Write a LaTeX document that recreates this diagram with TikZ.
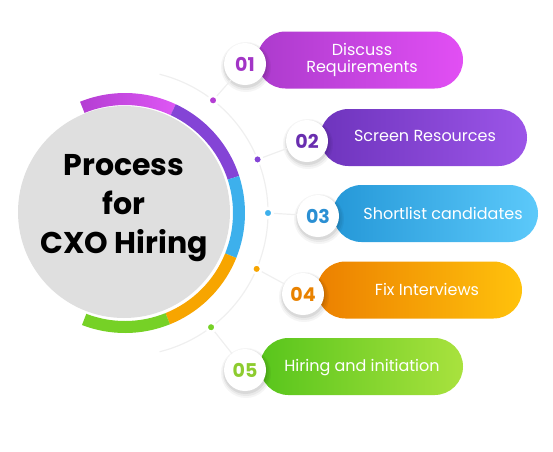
\documentclass[tikz,border=0pt]{standalone}
\usepackage{fontspec}
\setmainfont{Poppins}
\usetikzlibrary{shapes.misc,calc}
\definecolor{c1a}{HTML}{AC3BCD}\definecolor{c1b}{HTML}{E24FF4}
\definecolor{c2a}{HTML}{6E34BD}\definecolor{c2b}{HTML}{9C55E8}
\definecolor{c3a}{HTML}{2598D8}\definecolor{c3b}{HTML}{5CC9FA}
\definecolor{c4a}{HTML}{EC8000}\definecolor{c4b}{HTML}{FFC20C}
\definecolor{c5a}{HTML}{58C51C}\definecolor{c5b}{HTML}{A9E23E}
\definecolor{n1}{HTML}{A235C6}\definecolor{n2}{HTML}{692EAF}
\definecolor{n3}{HTML}{2A8FD3}\definecolor{n4}{HTML}{E98200}
\definecolor{n5}{HTML}{8DCC2F}
\definecolor{r1a}{HTML}{B43DD3}\definecolor{r1b}{HTML}{DE57F4}
\definecolor{r2}{HTML}{8444D6}\definecolor{r3}{HTML}{3DB0EC}
\definecolor{r4}{HTML}{F7A500}\definecolor{r5}{HTML}{76D126}
\definecolor{hubgray}{HTML}{DFDFDF}
\definecolor{linegray}{HTML}{EFEFEF}
\tikzset{
  dotmark/.style={circle, fill=#1, minimum size=9pt, inner sep=0pt, draw=white, line width=2.5pt},
  numball/.style={circle, fill=white, minimum size=42pt, inner sep=0pt,
    font=\fontsize{19}{19}\selectfont\bfseries, text=#1},
  pill/.style={rounded rectangle, minimum height=57pt, inner sep=0pt, draw=none},
  pilltext/.style={text=white, font=\fontsize{16}{17}\selectfont, align=center},
  conn/.style={draw=linegray, line width=1.2pt},
}
\begin{document}
\begin{tikzpicture}[x=1pt,y=-1pt]
\useasboundingbox (0,0) rectangle (553,451);
\coordinate (C) at (125,213);
% pills
\node[pill, minimum width=206pt, left color=c1a, right color=c1b] (p1) at (360,60) {};
\node[pill, minimum width=207pt, left color=c2a, right color=c2b] (p2) at (423.5,137.5) {};
\node[pill, minimum width=205pt, left color=c3a, right color=c3b] (p3) at (435.5,213.5) {};
\node[pill, minimum width=205pt, left color=c4a, right color=c4b] (p4) at (419.5,290) {};
\node[pill, minimum width=203pt, left color=c5a, right color=c5b] (p5) at (361.5,366.5) {};
\node[pilltext] (t1) at (362,60) {Discuss\\Requirements};
\node[pilltext] (t2) at (425,136) {Screen Resources};
\node[pilltext] (t3) at (443,213) {Shortlist candidates};
\node[pilltext] (t4) at (427,289) {Fix Interviews};
\node[pilltext] (t5) at (362,368) {Hiring and initiation};
% thin guide arc
\draw[conn] ([shift={(-76:143)}]C) arc[start angle=-76, end angle=76, radius=143];
% dots
\node[dotmark=r1a] (d1) at ([shift={(-52:143)}]C) {};
\node[dotmark=r2]  (d2) at ([shift={(-22:143)}]C) {};
\node[dotmark=r3]  (d3) at ([shift={(0:143)}]C) {};
\node[dotmark=r4]  (d4) at ([shift={(23:143)}]C) {};
\node[dotmark=r5]  (d5) at ([shift={(53:143)}]C) {};
% number balls positions
\coordinate (b1) at (245,64);
\coordinate (b2) at (307,141);
\coordinate (b3) at (318,216);
\coordinate (b4) at (303,294);
\coordinate (b5) at (245,370);
\foreach \i in {1,...,5}{
  \fill[black, opacity=0.04] ($(b\i)+(1,3)$) circle[radius=25];
  \fill[black, opacity=0.05] ($(b\i)+(1,2.5)$) circle[radius=23.5];
  \fill[black, opacity=0.07] ($(b\i)+(0.5,2)$) circle[radius=22];
}
\node[numball=n1] (n1) at (b1) {01};
\node[numball=n2] (n2) at (b2) {02};
\node[numball=n3] (n3) at (b3) {03};
\node[numball=n4] (n4) at (b4) {04};
\node[numball=n5] (n5) at (b5) {05};
\draw[conn] (d1) -- (n1);
\draw[conn] (d2) -- (n2);
\draw[conn] (d3) -- (n3);
\draw[conn] (d4) -- (n4);
\draw[conn] (d5) -- (n5);
% redraw dots over lines
\node[dotmark=r1a] at (d1) {};
\node[dotmark=r2]  at (d2) {};
\node[dotmark=r3]  at (d3) {};
\node[dotmark=r4]  at (d4) {};
\node[dotmark=r5]  at (d5) {};
% hub
\node[circle, fill=hubgray, minimum size=212pt, inner sep=0pt] (hub) at (124,212) {};
% ring segments
\shade[left color=r1a, right color=r1b]
  ([shift={(-112:120)}]C) arc[start angle=-112, end angle=-65, radius=120]
  -- ([shift={(-65:108)}]C) arc[start angle=-65, end angle=-112, radius=108] -- cycle;
\fill[r2]
  ([shift={(-65:120)}]C) arc[start angle=-65, end angle=-18, radius=120]
  -- ([shift={(-18:108)}]C) arc[start angle=-18, end angle=-65, radius=108] -- cycle;
\fill[r3]
  ([shift={(-18:120)}]C) arc[start angle=-18, end angle=22, radius=120]
  -- ([shift={(22:108)}]C) arc[start angle=22, end angle=-18, radius=108] -- cycle;
\fill[r4]
  ([shift={(22:120)}]C) arc[start angle=22, end angle=68, radius=120]
  -- ([shift={(68:108)}]C) arc[start angle=68, end angle=22, radius=108] -- cycle;
\fill[r5]
  ([shift={(68:120)}]C) arc[start angle=68, end angle=111, radius=120]
  -- ([shift={(111:108)}]C) arc[start angle=111, end angle=68, radius=108] -- cycle;
% title
\node[font=\fontsize{30}{39}\selectfont\bfseries, align=center, text=black] (title) at (124,208)
  {Process\\for\\CXO Hiring};
\end{tikzpicture}
\end{document}
